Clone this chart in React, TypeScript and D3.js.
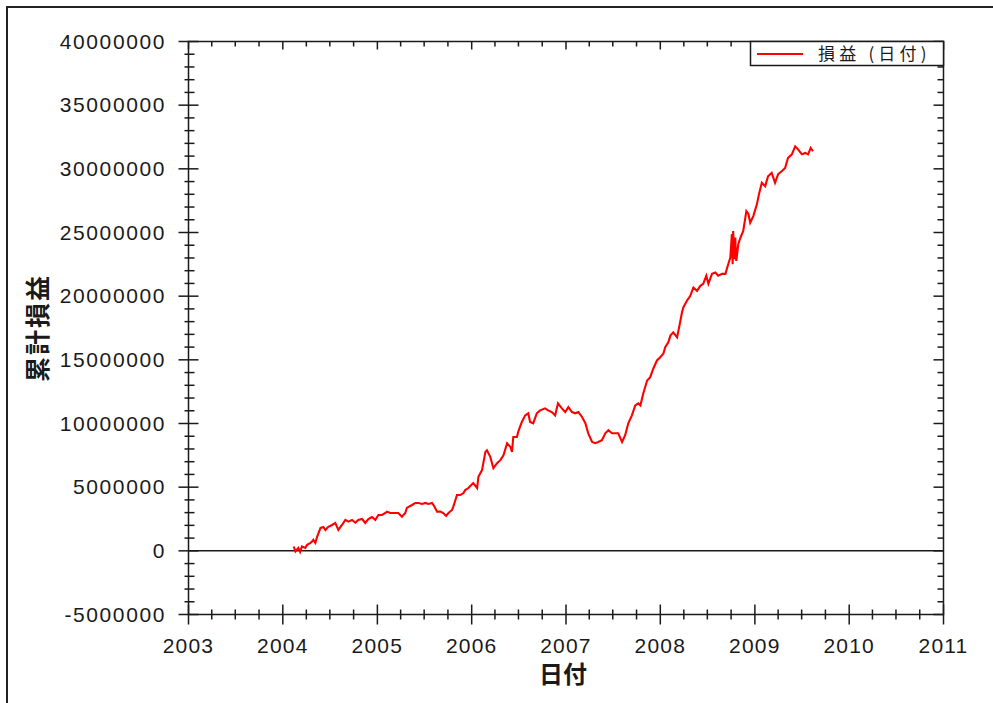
import React from "react";
import * as d3 from "d3";

// 累計損益 (cumulative P&L) by date
const dates: string[] = [
  "2004-02-12", "2004-02-19", "2004-03-01", "2004-03-08", "2004-03-15", "2004-03-28", "2004-04-04", "2004-04-17",
  "2004-04-23", "2004-04-28", "2004-05-06", "2004-05-13", "2004-05-26", "2004-06-06", "2004-06-14", "2004-06-25",
  "2004-07-10", "2004-07-22", "2004-08-03", "2004-08-17", "2004-08-30", "2004-09-11", "2004-09-25", "2004-10-08",
  "2004-10-19", "2004-11-03", "2004-11-15", "2004-11-27", "2004-12-11", "2004-12-24", "2005-01-05", "2005-01-19",
  "2005-02-01", "2005-02-07", "2005-02-20", "2005-03-11", "2005-03-23", "2005-04-06", "2005-04-19", "2005-04-25",
  "2005-05-15", "2005-05-28", "2005-06-09", "2005-06-23", "2005-07-06", "2005-07-17", "2005-08-01", "2005-08-10",
  "2005-08-20", "2005-09-02", "2005-09-13", "2005-09-24", "2005-10-03", "2005-10-17", "2005-10-22", "2005-10-30",
  "2005-11-05", "2005-11-18", "2005-11-30", "2005-12-07", "2005-12-19", "2006-01-07", "2006-01-22", "2006-01-27",
  "2006-02-10", "2006-02-23", "2006-03-01", "2006-03-14", "2006-03-26", "2006-04-09", "2006-04-22", "2006-05-04",
  "2006-05-18", "2006-05-31", "2006-06-06", "2006-06-11", "2006-06-25", "2006-06-30", "2006-07-14", "2006-07-27",
  "2006-08-08", "2006-08-15", "2006-08-27", "2006-09-10", "2006-09-23", "2006-10-12", "2006-10-24", "2006-11-07",
  "2006-11-20", "2006-12-01", "2006-12-16", "2006-12-29", "2007-01-10", "2007-01-24", "2007-02-06", "2007-02-18",
  "2007-03-04", "2007-03-17", "2007-03-28", "2007-04-12", "2007-04-24", "2007-05-06", "2007-05-20", "2007-06-02",
  "2007-06-14", "2007-06-28", "2007-07-11", "2007-07-22", "2007-08-06", "2007-08-18", "2007-08-30", "2007-09-13",
  "2007-09-26", "2007-10-08", "2007-10-16", "2007-10-27", "2007-11-11", "2007-11-23", "2007-12-05", "2007-12-19",
  "2008-01-01", "2008-01-13", "2008-01-20", "2008-02-01", "2008-02-09", "2008-02-20", "2008-03-06", "2008-03-15",
  "2008-03-25", "2008-03-30", "2008-04-13", "2008-04-26", "2008-05-08", "2008-05-22", "2008-06-04", "2008-06-15",
  "2008-06-27", "2008-07-05", "2008-07-19", "2008-08-01", "2008-08-12", "2008-08-27", "2008-09-09", "2008-09-16",
  "2008-09-28", "2008-10-04", "2008-10-07", "2008-10-09", "2008-10-14", "2008-10-17", "2008-10-21", "2008-10-29",
  "2008-11-06", "2008-11-17", "2008-11-29", "2008-12-07", "2008-12-14", "2008-12-26", "2009-01-09", "2009-01-18",
  "2009-01-28", "2009-02-10", "2009-02-21", "2009-03-07", "2009-03-20", "2009-04-01", "2009-04-15", "2009-04-28",
  "2009-05-09", "2009-05-24", "2009-06-06", "2009-06-17", "2009-07-02", "2009-07-15", "2009-07-26", "2009-08-05",
  "2009-08-14",
];

const values: number[] = [
  340000, -50000, 230000, -80000, 340000, 230000, 470000, 630000,
  730000, 860000, 630000, 1120000, 1800000, 1880000, 1640000, 1880000,
  2030000, 2190000, 1640000, 2030000, 2430000, 2290000, 2430000, 2210000,
  2430000, 2500000, 2190000, 2500000, 2660000, 2430000, 2820000, 2820000,
  2970000, 3080000, 2970000, 2970000, 2970000, 2680000, 2970000, 3370000,
  3600000, 3760000, 3760000, 3680000, 3760000, 3680000, 3760000, 3470000,
  3080000, 3080000, 2970000, 2740000, 2970000, 3210000, 3470000, 3990000,
  4380000, 4380000, 4540000, 4770000, 4930000, 5320000, 4930000, 5810000,
  6340000, 7770000, 7900000, 7380000, 6490000, 6890000, 7120000, 7510000,
  8450000, 8160000, 7770000, 8940000, 8940000, 9340000, 10120000, 10640000,
  10800000, 10120000, 10020000, 10800000, 11030000, 11190000, 11030000, 10900000,
  10640000, 11580000, 11190000, 10900000, 11290000, 10900000, 10800000, 10900000,
  10510000, 10020000, 9230000, 8550000, 8450000, 8550000, 8690000, 9230000,
  9470000, 9230000, 9230000, 9230000, 8550000, 9080000, 10020000, 10640000,
  11420000, 11580000, 11420000, 12360000, 13380000, 13640000, 14320000, 14950000,
  15200000, 15490000, 15990000, 16380000, 16900000, 17160000, 16770000, 17680000,
  18730000, 19120000, 19640000, 20030000, 20680000, 20420000, 20810000, 20970000,
  21600000, 20970000, 21750000, 21860000, 21600000, 21750000, 21750000, 22250000,
  23030000, 24880000, 22500000, 25120000, 22900000, 24600000, 22770000, 24100000,
  24590000, 25120000, 26680000, 26450000, 25770000, 26290000, 27230000, 28110000,
  28900000, 28640000, 29420000, 29680000, 28900000, 29580000, 29810000, 30070000,
  30850000, 31140000, 31770000, 31530000, 31140000, 31250000, 31140000, 31640000,
  31380000,
];

const yearTicks: number[] = [2003, 2004, 2005, 2006, 2007, 2008, 2009, 2010, 2011];
const yTicks: number[] = [-5000000, 0, 5000000, 10000000, 15000000, 20000000, 25000000, 30000000, 35000000, 40000000];
const seriesName = "損益 (日付)";
const xTitle = "日付";
const yTitle = "累計損益";

const W = 993;
const H = 703;
const plot = { left: 188.5, right: 943.5, top: 41.5, bottom: 614.5 };
const ink = "#1a1a1a";
const numFont = "'Liberation Sans', Arial, sans-serif";
const cjkFont = "'Noto Sans CJK JP', sans-serif";

export default function App() {
  const parse = d3.timeParse("%Y-%m-%d");
  const data = dates.map((d, i) => ({ date: parse(d)!, value: values[i] }));

  const x = d3
    .scaleTime()
    .domain([new Date(yearTicks[0], 0, 1), new Date(yearTicks[yearTicks.length - 1], 0, 1)])
    .range([plot.left, plot.right]);
  const y = d3
    .scaleLinear()
    .domain([yTicks[0], yTicks[yTicks.length - 1]])
    .range([plot.bottom, plot.top]);

  const line = d3
    .line<{ date: Date; value: number }>()
    .x(d => x(d.date))
    .y(d => y(d.value));

  const majorX = yearTicks.map(yr => new Date(yr, 0, 1));
  const minorX = d3.timeMonth
    .every(3)!
    .range(x.domain()[0], x.domain()[1])
    .filter(d => d.getMonth() !== 0);
  const minorY = d3.range(yTicks[0], yTicks[yTicks.length - 1], 1000000).filter(v => v % 5000000 !== 0);

  return (
    <svg width={W} height={H} style={{ position: "absolute", left: 0, top: 0, background: "#fff" }}>
      <rect x={7} y={7} width={W} height={H} fill="#fff" stroke="#222" strokeWidth={2} />

      {/* zero line */}
      <line x1={plot.left} x2={plot.right} y1={y(0)} y2={y(0)} stroke={ink} strokeWidth={1.5} />

      {/* series */}
      <path d={line(data) ?? undefined} fill="none" stroke="#ff0000" strokeWidth={2.1} strokeLinejoin="miter" />

      {/* frame */}
      <rect
        x={plot.left}
        y={plot.top}
        width={plot.right - plot.left}
        height={plot.bottom - plot.top}
        fill="none"
        stroke={ink}
        strokeWidth={1.5}
      />

      {/* bottom / top ticks */}
      {majorX.map((d, i) => (
        <g key={`mx${i}`}>
          <line x1={x(d)} x2={x(d)} y1={plot.bottom - 10} y2={plot.bottom + 10} stroke={ink} strokeWidth={1.5} />
          <line x1={x(d)} x2={x(d)} y1={plot.top} y2={plot.top + 8} stroke={ink} strokeWidth={1.5} />
          <text
            x={x(d)}
            y={653}
            textAnchor="middle"
            fontFamily={numFont}
            fontSize={21}
            letterSpacing={1.2}
            fill={ink}
          >
            {yearTicks[i]}
          </text>
        </g>
      ))}
      {minorX.map((d, i) => (
        <g key={`nx${i}`}>
          <line x1={x(d)} x2={x(d)} y1={plot.bottom - 5} y2={plot.bottom + 5} stroke={ink} strokeWidth={1.5} />
          <line x1={x(d)} x2={x(d)} y1={plot.top} y2={plot.top + 5} stroke={ink} strokeWidth={1.5} />
        </g>
      ))}

      {/* left / right ticks */}
      {yTicks.map(v => (
        <g key={`my${v}`}>
          <line x1={plot.left - 10} x2={plot.left + 10} y1={y(v)} y2={y(v)} stroke={ink} strokeWidth={1.5} />
          <line x1={plot.right - 10} x2={plot.right} y1={y(v)} y2={y(v)} stroke={ink} strokeWidth={1.5} />
          <text
            x={166}
            y={y(v) + 7}
            textAnchor="end"
            fontFamily={numFont}
            fontSize={21}
            letterSpacing={1.6}
            fill={ink}
          >
            {v}
          </text>
        </g>
      ))}
      {minorY.map(v => (
        <g key={`ny${v}`}>
          <line x1={plot.left - 4} x2={plot.left + 6} y1={y(v)} y2={y(v)} stroke={ink} strokeWidth={1.5} />
          <line x1={plot.right - 6} x2={plot.right} y1={y(v)} y2={y(v)} stroke={ink} strokeWidth={1.5} />
        </g>
      ))}

      {/* axis titles */}
      <text x={563} y={683} textAnchor="middle" fontFamily={cjkFont} fontWeight="bold" fontSize={24} fill={ink}>
        {xTitle}
      </text>
      <text
        transform={`translate(47,328) rotate(-90)`}
        textAnchor="middle"
        fontFamily={cjkFont}
        fontWeight="bold"
        fontSize={25}
        letterSpacing={2}
        fill={ink}
      >
        {yTitle}
      </text>

      {/* legend */}
      <rect x={750.5} y={plot.top} width={plot.right - 750.5} height={24} fill="#fff" stroke={ink} strokeWidth={1.5} />
      <line x1={757} x2={803} y1={54} y2={54} stroke="#ff0000" strokeWidth={2} />
      <text x={818} y={60} fontFamily={cjkFont} fontSize={17} letterSpacing={4.2} fill={ink}>
        {seriesName}
      </text>
    </svg>
  );
}
